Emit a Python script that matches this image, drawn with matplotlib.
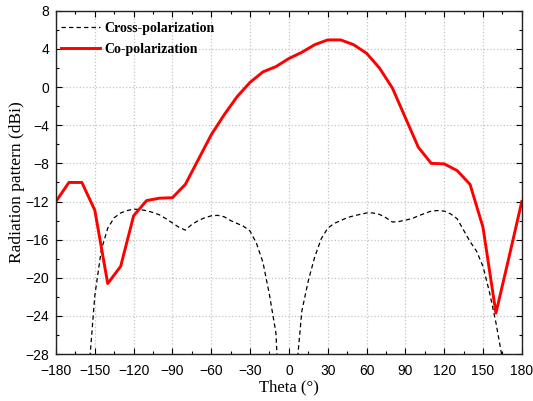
import matplotlib
matplotlib.use("Agg")
import matplotlib.pyplot as plt
from matplotlib.ticker import MultipleLocator

# co-polarization, 10 deg steps
theta_co = list(range(-180, 181, 10))
co_pol = [-12.0, -10.0, -10.0, -12.9, -20.6, -18.8, -13.5, -11.9, -11.65, -11.6,
          -10.2, -7.6, -5.0, -2.9, -1.0, 0.5, 1.6, 2.15, 3.0, 3.65,
          4.45, 4.95, 4.95, 4.45, 3.55, 2.0, -0.1, -3.2, -6.3, -8.0,
          -8.05, -8.75, -10.2, -14.7, -23.7, -17.9, -12.0]

# cross-polarization, 5 deg steps (values below -28 fall off the plot)
theta_cross = list(range(-180, 181, 5))
cross_pol = [-45, -45, -45, -45, -40, -30.5, -21.9, -17.1, -14.8, -13.7,
             -13.2, -12.95, -12.8, -12.85, -12.96, -13.15, -13.4, -13.8, -14.25, -14.7,
             -15.0, -14.4, -14.0, -13.7, -13.5, -13.45, -13.6, -14.0, -14.3, -14.6,
             -15.1, -16.4, -18.4, -21.8, -25.8, -40, -50, -31, -23.5, -20.3,
             -17.8, -15.9, -14.8, -14.3, -14.0, -13.7, -13.5, -13.35, -13.2, -13.2,
             -13.35, -13.7, -14.15, -14.1, -13.95, -13.8, -13.5, -13.25, -13.0, -12.95,
             -13.0, -13.3, -13.8, -15.0, -16.2, -17.2, -18.8, -21.5, -24.7, -28.5,
             -40, -45, -45]

x_ticks = list(range(-180, 181, 30))
y_ticks = list(range(-28, 9, 4))

fig = plt.figure(figsize=(5.33, 4.01), dpi=100)
ax = fig.add_axes([0.105, 0.117, 0.874, 0.856])

ax.plot(theta_cross, cross_pol, color='black', linestyle=(0, (3.5, 2.5)),
        linewidth=0.9, label='Cross-polarization')
ax.plot(theta_co, co_pol, color='red', linewidth=2.1, label='Co-polarization')

ax.set_xlim(-180, 180)
ax.set_ylim(-28, 8)
ax.set_xticks(x_ticks)
ax.set_yticks(y_ticks)
ax.xaxis.set_minor_locator(MultipleLocator(15))
ax.yaxis.set_minor_locator(MultipleLocator(2))
ax.tick_params(which='both', direction='in', top=True, right=True)
ax.tick_params(which='major', length=4, width=0.8, labelsize=10)
ax.tick_params(axis='x', which='major', pad=7)
ax.tick_params(axis='y', which='major', pad=5)
ax.tick_params(which='minor', length=2.5, width=0.8)
for lab in ax.get_xticklabels() + ax.get_yticklabels():
    lab.set_fontfamily('Liberation Sans')

ax.grid(True, which='major', color='#c4c4c4', linestyle=':', linewidth=0.9)
for sp in ax.spines.values():
    sp.set_linewidth(1.0)
    sp.set_color('#222222')

ax.set_xlabel('Theta (°)', fontfamily='Liberation Serif', fontsize=12, labelpad=1)
ax.set_ylabel('Radiation pattern (dBi)', fontfamily='Liberation Serif', fontsize=12.5, labelpad=0)

ax.legend(loc='upper left', bbox_to_anchor=(-0.013, 1.0), frameon=False,
          prop={'family': 'Liberation Serif', 'weight': 'bold', 'size': 10},
          handlelength=2.8, handletextpad=0.3, labelspacing=0.55,
          borderaxespad=0.5, borderpad=0.3)

fig.savefig('out.png', dpi=100)
